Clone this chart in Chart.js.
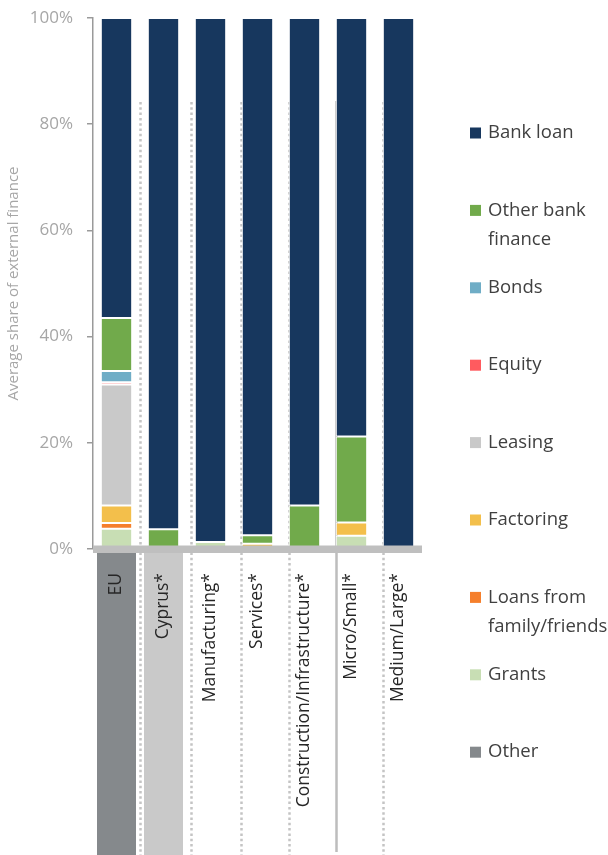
<!DOCTYPE html>
<html><head><meta charset="utf-8">
<script src="https://cdn.jsdelivr.net/npm/chart.js@4/dist/chart.umd.min.js"></script>
<style>html,body{margin:0;padding:0;background:#fff;}#wrap{width:608px;height:855px;position:relative}</style>
</head><body><div id="wrap"><canvas id="c" width="608" height="855"></canvas></div>
<script>
const categories = ['EU','Cyprus*','Manufacturing*','Services*','Construction/Infrastructure*','Micro/Small*','Medium/Large*'];
// stacked bottom -> top
const otherVals   = [0, 0, 0, 0, 0, 0, 0];
const grants      = [3.8, 0, 1.3, 0, 0, 2.5, 0];
const loansFamily = [1.1, 0, 0, 0, 0, 0, 0];
const factoring   = [3.3, 0.3, 0, 1.0, 0, 2.5, 0];
const leasing     = [22.8, 0, 0, 0, 0, 0, 0];
const equity      = [0.4, 0, 0, 0, 0, 0, 0];
const bonds       = [2.1, 0, 0, 0, 0, 0, 0];
const otherBank   = [10.0, 3.4, 0, 1.6, 8.2, 16.2, 0];
const bankLoan    = [56.5, 96.3, 98.7, 97.4, 91.8, 78.8, 100];
const yTicks = [0, 20, 40, 60, 80, 100];
const seriesNames = ['Other','Grants','Loans from family/friends','Factoring','Leasing','Equity','Bonds','Other bank finance','Bank loan'];
const legendLines = [['Other'],['Grants'],['Loans from','family/friends'],['Factoring'],['Leasing'],['Equity'],['Bonds'],['Other bank','finance'],['Bank loan']];
const seriesColors = ['#85898c','#c8deb4','#f57f2c','#f3bf4b','#c9c9c9','#ff5b5f','#6fadc6','#71aa4b','#17375e'];
const seriesData = [otherVals, grants, loansFamily, factoring, leasing, equity, bonds, otherBank, bankLoan];

// layout constants (decoration)
const separatorPos = [0.494, 1.579, 2.64, 3.68, 4.66, 5.68];
const solidSeparator = 4;
const labelBoxes = {0: '#85898c', 1: '#c9c9c9'};
const FONT = "'Open Sans', 'Noto Sans', sans-serif";

const deco = {
  id: 'deco',
  beforeDatasetsDraw(chart) {
    const ctx = chart.ctx, xs = chart.scales.x, H = chart.height;
    ctx.save();
    separatorPos.forEach((v, i) => {
      const x = Math.round(xs.getPixelForValue(v)) + 0.5;
      ctx.beginPath();
      if (i === solidSeparator) {
        ctx.strokeStyle = '#bdbdbd'; ctx.lineWidth = 2.5; ctx.setLineDash([]);
        ctx.moveTo(x, 101); ctx.lineTo(x, H - 3);
      } else {
        ctx.strokeStyle = '#c4c4c4'; ctx.lineWidth = 2.5; ctx.setLineDash([2.5, 2.8]);
        ctx.moveTo(x, 102); ctx.lineTo(x, H);
      }
      ctx.stroke();
    });
    ctx.restore();
  },
  afterDatasetsDraw(chart) {
    const ctx = chart.ctx, xs = chart.scales.x, ys = chart.scales.y, ca = chart.chartArea, H = chart.height;
    const y0 = ys.getPixelForValue(0);
    ctx.save();
    // label background boxes
    const bandBottom = y0 + 4;
    Object.keys(labelBoxes).forEach(k => {
      const cx = xs.getPixelForValue(+k);
      ctx.fillStyle = labelBoxes[k];
      ctx.fillRect(cx - 19.5, bandBottom, 39, H - bandBottom);
    });
    // thick gray axis band
    ctx.fillStyle = '#bfbfbf';
    ctx.fillRect(ca.left, y0 - 3.5, ca.right - ca.left, 7.5);
    // category labels
    ctx.fillStyle = '#262626';
    ctx.font = '17.5px ' + FONT;
    ctx.textAlign = 'right';
    ctx.textBaseline = 'middle';
    categories.forEach((c, i) => {
      const cx = xs.getPixelForValue(i);
      ctx.save();
      ctx.translate(cx, y0 + 24);
      ctx.rotate(-Math.PI / 2);
      ctx.fillText(c, 0, 0);
      ctx.restore();
    });
    // legend (top = Bank loan)
    ctx.textAlign = 'left';
    ctx.font = '18.5px ' + FONT;
    for (let k = 0; k < seriesNames.length; k++) {
      const idx = seriesNames.length - 1 - k;
      const yc = 133 + k * 77.4;
      ctx.fillStyle = seriesColors[idx];
      ctx.fillRect(470, yc - 5.5, 11, 11);
      ctx.fillStyle = '#404040';
      legendLines[idx].forEach((ln, j) => ctx.fillText(ln, 488, yc + j * 29));
    }
    ctx.restore();
  }
};

new Chart(document.getElementById('c'), {
  type: 'bar',
  data: {
    labels: categories,
    datasets: seriesData.map((d, i) => ({
      label: seriesNames[i], data: d, backgroundColor: seriesColors[i],
      borderColor: '#ffffff', borderWidth: 1, borderSkipped: false,
      barPercentage: 0.667, categoryPercentage: 1.0
    }))
  },
  options: {
    responsive: false, animation: false, devicePixelRatio: 1,
    layout: { padding: { left: 0, right: 186, top: 18, bottom: 306 } },
    plugins: { legend: { display: false }, tooltip: { enabled: false } },
    scales: {
      x: {
        stacked: true, offset: true,
        grid: { display: false }, border: { display: false },
        ticks: { display: false },
        afterFit(s) { s.height = 0; s.paddingLeft = 0; s.paddingRight = 0; }
      },
      y: {
        stacked: true, min: 0, max: 100,
        afterBuildTicks(s) { s.ticks = yTicks.map(v => ({ value: v })); },
        afterFit(s) { s.width = 93; s.paddingTop = 0; s.paddingBottom = 0; },
        ticks: { callback: v => v + '%', color: '#a6a6a6', font: { family: FONT, size: 17 }, padding: 14 },
        grid: { drawOnChartArea: false, drawTicks: true, tickLength: 6, color: '#9a9a9a', lineWidth: 1.5 },
        border: { color: '#9a9a9a', width: 1.5 },
        title: { display: true, text: 'Average share of external finance', color: '#a6a6a6', font: { family: FONT, size: 15 }, padding: { top: 5, bottom: 0 } }
      }
    }
  },
  plugins: [deco]
});
</script></body></html>
